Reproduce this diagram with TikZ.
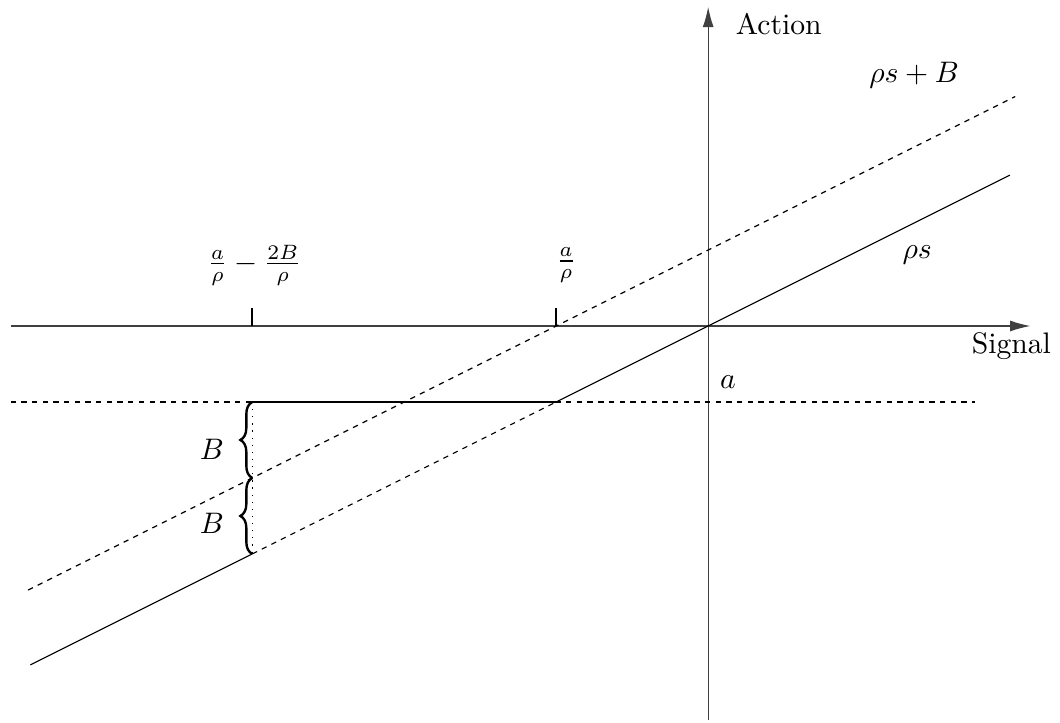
\documentclass[tikz,border=0pt]{standalone}
\usepackage{amsmath,amssymb}
\usetikzlibrary{arrows.meta,decorations.pathreplacing}

\begin{document}
\begin{tikzpicture}[
 x=0.9cm,y=0.9cm,
 axis/.style={-{Latex[length=2.4mm,width=1.3mm]},draw=black!75},
 guide/.style={dash pattern=on 1.8pt off 1.8pt,thin},
 tickmark/.style={semithick},
 brc/.style={decorate,decoration={brace,amplitude=4pt},thick},
 lbl/.style={inner sep=1pt}
]
\useasboundingbox (-9.32,-5.22) rectangle (4.63,4.29);
% axes
\coordinate (xl) at (-9.18,0);
\coordinate (xr) at (4.24,0);
\coordinate (yb) at (0,-5.18);
\coordinate (yt) at (0,4.2);
\draw[axis] (xl) -- (xr);
\draw[axis] (yb) -- (yt);
\node[lbl] (sig) at (3.99,-0.27) {Signal};
\node[lbl] (act) at (0.93,3.97) {Action};
% key points
\coordinate (lo) at (-8.92,-4.46);
\coordinate (p) at (-6,-3);
\coordinate (m) at (-6,-2);
\coordinate (q) at (-6,-1);
\coordinate (r) at (-2,-1);
\coordinate (hi) at (3.97,1.985);
\coordinate (bl) at (-8.95,-3.475);
\coordinate (br) at (4.04,3.02);
\coordinate (al) at (-9.18,-1);
\coordinate (ar) at (3.51,-1);
% guides
\draw[guide] (bl) -- (br);
\draw[guide] (al) -- (ar);
\draw[guide] (p) -- (r);
\draw[dotted] (q) -- (p);
% action
\draw (lo) -- (p);
\draw[thick] (q) -- (r);
\draw (r) -- (hi);
% ticks
\coordinate (t1) at (-6,0);
\coordinate (t2) at (-2,0);
\draw[tickmark] (t1) -- ++(0,0.24);
\draw[tickmark] (t2) -- ++(0,0.24);
\node[lbl] (lft) at (-5.97,0.8) {$\frac{a}{\rho}-\frac{2B}{\rho}$};
\node[lbl] (arho) at (-1.87,0.8) {$\frac{a}{\rho}$};
% braces
\draw[brc] (m) -- (q);
\draw[brc] (p) -- (m);
\node[lbl] (b1) at (-6.53,-1.62) {$B$};
\node[lbl] (b2) at (-6.53,-2.6) {$B$};
% line labels
\node[lbl] (upl) at (2.71,3.3) {$\rho s+B$};
\node[lbl] (rsl) at (2.75,0.93) {$\rho s$};
\node[lbl] (al0) at (0.26,-0.74) {$a$};
\end{tikzpicture}
\end{document}
